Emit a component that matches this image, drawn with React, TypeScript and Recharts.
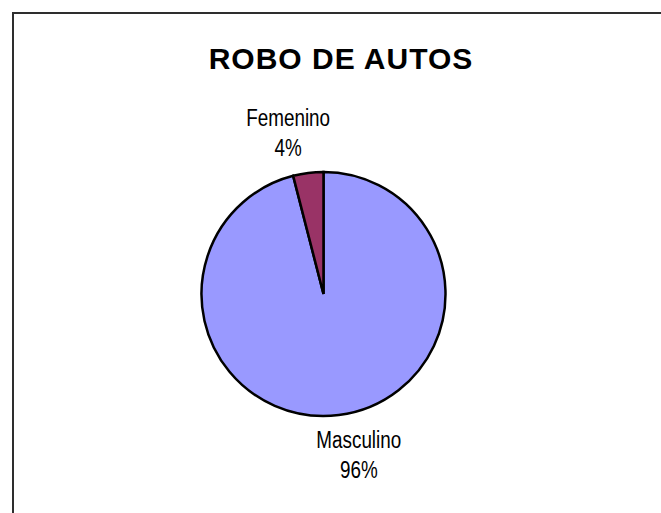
import React from 'react';
import { PieChart, Pie, Cell } from 'recharts';

// datos del gráfico
const categorias = ['Masculino', 'Femenino'];
const valores = [96, 4];
const colores = ['#9999FF', '#993366'];

const data = categorias.map((name, i) => ({ name, value: valores[i] }));

const RAD = Math.PI / 180;

// etiqueta de dos líneas: nombre y porcentaje (letra estrecha tipo Arial Narrow)
function renderLabel(props: any) {
  const { cx, cy, midAngle, outerRadius, name, percent } = props;
  const r = outerRadius + 40;
  const cos = Math.cos(-midAngle * RAD);
  const sin = Math.sin(-midAngle * RAD);
  const x = cx + r * cos + (cos >= 0 ? 15 : -15);
  const y = cy + r * sin;
  return (
    <text
      x={x}
      y={y}
      textAnchor="middle"
      fill="#000"
      transform={`translate(${x},0) scale(0.82,1) translate(${-x},0)`}
      style={{ fontFamily: '"Liberation Sans", Arial, sans-serif', fontSize: 23 }}
    >
      <tspan x={x} y={y - 7}>{name}</tspan>
      <tspan x={x} y={y + 23}>{`${Math.round(percent * 100)}%`}</tspan>
    </text>
  );
}

export default function App() {
  return (
    <div
      style={{
        position: 'absolute',
        left: 0,
        top: 0,
        width: 661,
        height: 513,
        overflow: 'hidden',
        background: '#fff',
      }}
    >
      {/* marco del área del gráfico */}
      <div
        style={{
          position: 'absolute',
          left: 12,
          top: 12,
          width: 720,
          height: 620,
          border: '2px solid #2e2e2e',
        }}
      />
      <div
        style={{
          position: 'absolute',
          left: 0,
          top: 42,
          width: 682,
          textAlign: 'center',
          fontFamily: '"Liberation Sans", Arial, sans-serif',
          fontWeight: 'bold',
          fontSize: 30,
          letterSpacing: 1,
          color: '#000',
        }}
      >
        ROBO DE AUTOS
      </div>
      <div style={{ position: 'absolute', left: 0, top: 0 }}>
        <PieChart width={661} height={513} margin={{ top: 0, right: 0, bottom: 0, left: 0 }}>
          <Pie
            data={data}
            dataKey="value"
            nameKey="name"
            cx={323.5}
            cy={294}
            outerRadius={122}
            startAngle={90}
            endAngle={-270}
            stroke="#000"
            strokeWidth={2.5}
            label={renderLabel}
            labelLine={false}
            isAnimationActive={false}
          >
            {data.map((_, i) => (
              <Cell key={i} fill={colores[i]} />
            ))}
          </Pie>
        </PieChart>
      </div>
    </div>
  );
}
